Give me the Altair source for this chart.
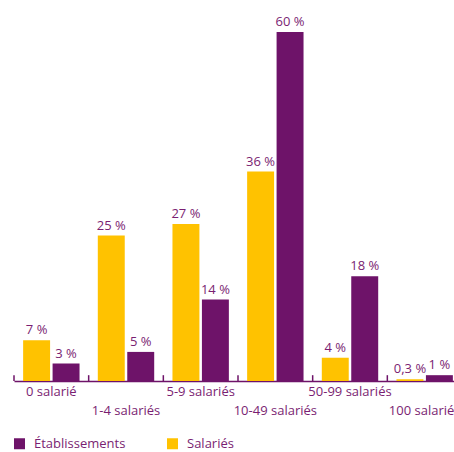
import altair as alt
import pandas as pd

categories = ["0 salarié", "1-4 salariés", "5-9 salariés", "10-49 salariés", "50-99 salariés", "100 salariés"]
etablissements = [3, 5, 14, 60, 18, 1]
salaries = [7, 25, 27, 36, 4, 0.3]
series = ["Établissements", "Salariés"]
second_row = ["1-4 salariés", "10-49 salariés", "100 salariés"]

PURPLE = "#6E1369"
YELLOW = "#FFC200"
TEXT = "#7A1E72"
FONT = "Open Sans"


def fr(v):
    s = ("%g" % v).replace(".", ",")
    return s + " %"


rows = []
for c, e, s in zip(categories, etablissements, salaries):
    rows.append({"cat": c, "serie": "Salariés", "val": s, "label": fr(s)})
    rows.append({"cat": c, "serie": "Établissements", "val": e, "label": fr(e)})
df = pd.DataFrame(rows)

xscale = alt.Scale(domain=categories, range=[0, 448], paddingInner=0, paddingOuter=0)
yscale = alt.Scale(domain=[0, 63.6], nice=False)
xoff = alt.XOffset("serie:N", sort=["Salariés", "Établissements"],
                   scale=alt.Scale(paddingInner=0.085, paddingOuter=0.31))

test = "indexof(" + str(second_row) + ", datum.value) >= 0"

x_axis = alt.Axis(
    title=None, ticks=False, domainColor=PURPLE, domainWidth=1.5,
    labelAngle=0, labelFont=FONT, labelFontSize=13, labelColor=TEXT,
    labelBaseline="top", labelOverlap=False, labelBound=False, labelFlush=False,
    labelPadding={"condition": {"test": test, "value": 23}, "value": 4},
)

base = alt.Chart(df)

bars = base.mark_bar().encode(
    x=alt.X("cat:N", sort=categories, scale=xscale, axis=x_axis),
    xOffset=xoff,
    y=alt.Y("val:Q", scale=yscale, axis=None),
    color=alt.Color(
        "serie:N",
        scale=alt.Scale(domain=series, range=[PURPLE, YELLOW]),
        legend=alt.Legend(
            title=None, orient="none", direction="horizontal",
            legendX=-1, legendY=426, symbolType="square", symbolSize=121,
            symbolStrokeWidth=0, labelFont=FONT, labelFontSize=13,
            labelColor=TEXT, columnPadding=40, labelOffset=8,
        ),
    ),
)

labels = base.mark_text(baseline="bottom", dy=-3, font=FONT, fontSize=13, color=TEXT).encode(
    x=alt.X("cat:N", sort=categories, scale=xscale),
    xOffset=xoff,
    y=alt.Y("val:Q", scale=yscale),
    text="label:N",
)

tick_df = pd.DataFrame({"cat": categories})
ticks = alt.Chart(tick_df).mark_rule(color=PURPLE, strokeWidth=1.5).encode(
    x=alt.X("cat:N", sort=categories, scale=xscale, bandPosition=0),
    y=alt.datum(0),
    y2=alt.datum(1),
)

chart = alt.layer(bars, labels, ticks).properties(
    width=440, height=370,
    autosize=alt.AutoSizeParams(type="none"),
    padding={"left": 14, "top": 11, "right": 0, "bottom": 71},
    background="white",
).configure_view(stroke=None)

chart.save("out.html", embed_options={"renderer": "svg", "actions": False})
